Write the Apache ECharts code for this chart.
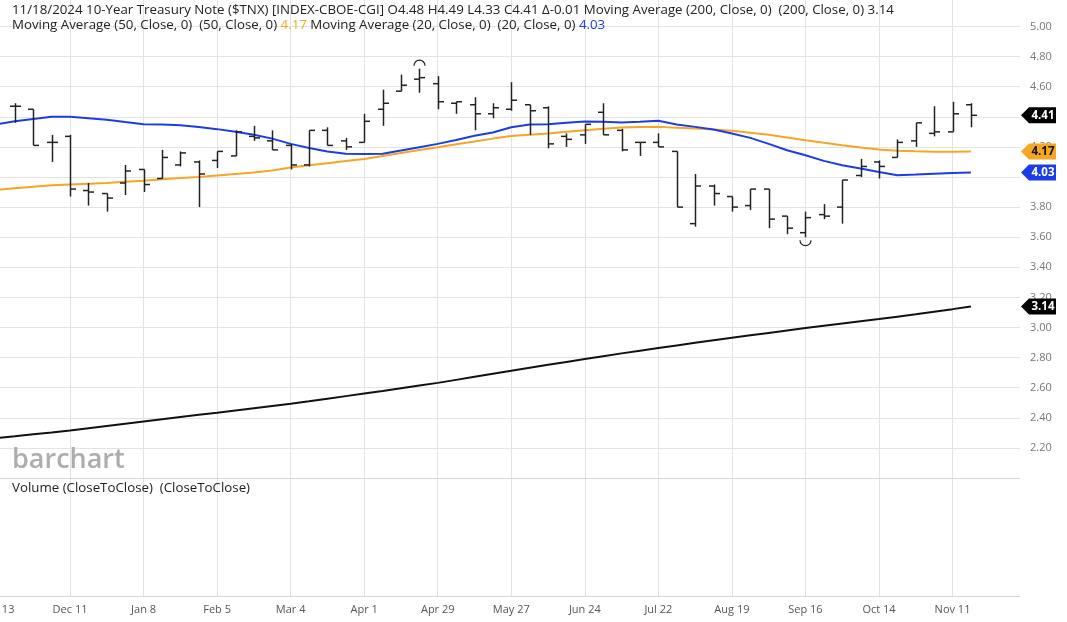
<!DOCTYPE html>
<html><head><meta charset="utf-8">
<script src="https://cdn.jsdelivr.net/npm/echarts@6/dist/echarts.min.js"></script>
<style>html,body{margin:0;padding:0;background:#fff;}#c{width:1067px;height:622px;}</style>
</head><body><div id="c"></div>
<script>
// ---- data ----
const originWeek = '2023-11-13';
const weeks = ['2023-11-20','2023-11-27','2023-12-04','2023-12-11','2023-12-18','2023-12-25','2024-01-01','2024-01-08','2024-01-15','2024-01-22','2024-01-29','2024-02-05','2024-02-12','2024-02-19','2024-02-26','2024-03-04','2024-03-11','2024-03-18','2024-03-25','2024-04-01','2024-04-08','2024-04-15','2024-04-22','2024-04-29','2024-05-06','2024-05-13','2024-05-20','2024-05-27','2024-06-03','2024-06-10','2024-06-17','2024-06-24','2024-07-01','2024-07-08','2024-07-15','2024-07-22','2024-07-29','2024-08-05','2024-08-12','2024-08-19','2024-08-26','2024-09-02','2024-09-09','2024-09-16','2024-09-23','2024-09-30','2024-10-07','2024-10-14','2024-10-21','2024-10-28','2024-11-04','2024-11-11','2024-11-18'];
const opens  = [4.47,4.45,4.23,4.27,3.91,3.89,3.96,4.05,3.99,4.08,4.10,4.11,4.14,4.27,4.24,4.21,4.08,4.31,4.24,4.23,4.45,4.57,4.65,4.62,4.49,4.48,4.42,4.45,4.48,4.46,4.27,4.28,4.43,4.31,4.23,4.23,4.17,3.69,3.94,3.87,3.81,3.92,3.74,3.63,3.75,3.80,4.01,4.10,4.13,4.24,4.29,4.30,4.48];
const highs  = [4.49,4.45,4.28,4.28,3.96,3.89,4.08,4.05,4.18,4.17,4.11,4.17,4.31,4.34,4.31,4.22,4.31,4.33,4.26,4.42,4.58,4.68,4.72,4.67,4.50,4.53,4.49,4.63,4.48,4.47,4.29,4.35,4.49,4.32,4.23,4.29,4.17,4.02,3.95,3.87,3.92,3.92,3.74,3.77,3.82,3.98,4.12,4.11,4.25,4.36,4.47,4.50,4.49];
const lows   = [4.36,4.21,4.10,3.87,3.81,3.77,3.88,3.90,3.99,4.07,3.80,4.06,4.14,4.24,4.18,4.05,4.07,4.21,4.18,4.23,4.34,4.57,4.56,4.45,4.42,4.31,4.39,4.44,4.28,4.19,4.20,4.22,4.28,4.17,4.14,4.20,3.80,3.67,3.81,3.77,3.78,3.66,3.62,3.60,3.72,3.69,4.00,3.99,4.13,4.20,4.27,4.30,4.33];
const closes = [4.47,4.21,4.23,3.92,3.90,3.86,4.04,3.95,4.13,4.16,4.02,4.17,4.30,4.26,4.18,4.08,4.31,4.21,4.20,4.37,4.49,4.61,4.66,4.50,4.50,4.42,4.46,4.51,4.44,4.22,4.25,4.35,4.28,4.18,4.23,4.20,3.80,3.94,3.89,3.80,3.92,3.72,3.66,3.73,3.74,3.98,4.07,4.07,4.23,4.36,4.30,4.42,4.41];
// moving averages, one value per week starting at originWeek
const ma200 = [2.265,2.277,2.29,2.302,2.315,2.33,2.345,2.36,2.375,2.39,2.405,2.42,2.434,2.449,2.464,2.479,2.494,2.51,2.527,2.544,2.561,2.578,2.596,2.614,2.632,2.652,2.672,2.692,2.712,2.732,2.752,2.771,2.79,2.809,2.828,2.846,2.864,2.881,2.898,2.915,2.932,2.948,2.964,2.98,2.996,3.011,3.026,3.041,3.056,3.072,3.088,3.105,3.122,3.14];
const ma50  = [3.915,3.925,3.935,3.945,3.95,3.955,3.96,3.968,3.975,3.985,3.993,4.0,4.01,4.02,4.03,4.043,4.063,4.078,4.092,4.106,4.12,4.14,4.16,4.18,4.198,4.218,4.236,4.255,4.272,4.281,4.289,4.30,4.311,4.32,4.329,4.332,4.333,4.328,4.322,4.315,4.307,4.294,4.28,4.262,4.244,4.227,4.211,4.196,4.182,4.175,4.171,4.168,4.167,4.17];
const ma20  = [4.35,4.37,4.385,4.40,4.40,4.39,4.38,4.365,4.351,4.348,4.344,4.332,4.318,4.30,4.28,4.255,4.22,4.193,4.17,4.154,4.152,4.154,4.176,4.198,4.22,4.246,4.274,4.296,4.33,4.349,4.351,4.36,4.369,4.367,4.362,4.367,4.373,4.349,4.333,4.316,4.289,4.26,4.22,4.178,4.144,4.107,4.078,4.056,4.033,4.011,4.016,4.022,4.027,4.03];
const tickLabels = ['Nov 13','Dec 11','Jan 8','Feb 5','Mar 4','Apr 1','Apr 29','May 27','Jun 24','Jul 22','Aug 19','Sep 16','Oct 14','Nov 11'];

// ---- helpers ----
const DAY = 86400000;
const t0 = Date.parse(originWeek + 'T00:00:00Z');
const wk = d => Math.round((Date.parse(d + 'T00:00:00Z') - t0) / (7 * DAY));
const ohlc = weeks.map((d, i) => [wk(d), opens[i], highs[i], lows[i], closes[i]]);
const maLine = arr => arr.map((v, i) => [i, v]);
const n = closes.length;
const X_MAX = 55.67, LABEL_STEP = 4;
const FONT = 'Open Sans';

let hiIdx = 0, loIdx = 0;
highs.forEach((v, i) => { if (v > highs[hiIdx]) hiIdx = i; });
lows.forEach((v, i) => { if (v < lows[loIdx]) loIdx = i; });

const f2 = v => v.toFixed(2);
const dParts = weeks[n - 1].split('-');
const hdrDate = dParts[1] + '/' + dParts[2] + '/' + dParts[0];
const delta = closes[n - 1] - closes[n - 2];
const header1 = hdrDate + ' 10-Year Treasury Note ($TNX) [INDEX-CBOE-CGI] O' + f2(opens[n-1]) + ' H' + f2(highs[n-1]) + ' L' + f2(lows[n-1]) + ' C' + f2(closes[n-1]) + ' \u0394' + (delta < 0 ? '-' : '+') + f2(Math.abs(delta)) + ' Moving Average (200, Close, 0)  (200, Close, 0) ' + f2(ma200[ma200.length-1]);

const chart = echarts.init(document.getElementById('c'), null, {renderer: 'canvas'});
const gridLine = '#e3e3e3', borderLine = '#d6d6d6';
const barColor = '#222';
const HF = 13.3;

const xCommon = {
  type: 'value', min: 0, max: X_MAX, interval: LABEL_STEP,
  axisTick: {show: false},
  axisLine: {show: true, onZero: false, lineStyle: {color: borderLine, width: 1}},
  splitLine: {show: true, showMinLine: false, showMaxLine: false, lineStyle: {color: gridLine, width: 1}}
};

const option = {
  animation: false,
  backgroundColor: '#fff',
  textStyle: {fontFamily: FONT},
  grid: [
    {left: -3.5, right: 47, top: 0, height: 478, outerBoundsMode: 'none'},
    {left: -3.5, right: 47, top: 478, height: 118, outerBoundsMode: 'none'}
  ],
  xAxis: [
    Object.assign({}, xCommon, {gridIndex: 0, axisLabel: {show: false}}),
    Object.assign({}, xCommon, {gridIndex: 1, axisLabel: {
      show: true, color: '#555', fontSize: 11, fontFamily: FONT, margin: 8,
      showMinLabel: true, showMaxLabel: false,
      formatter: v => { const k = Math.round(v / LABEL_STEP); return Math.abs(v - k * LABEL_STEP) < 1e-6 && tickLabels[k] ? tickLabels[k] : ''; }
    }})
  ],
  yAxis: [
    {gridIndex: 0, type: 'value', position: 'right', min: 2.0, max: 5.176, interval: 0.2,
     axisLine: {show: true, lineStyle: {color: borderLine}}, axisTick: {show: false},
     axisLabel: {color: '#777', fontSize: 11, fontFamily: FONT, margin: 10, showMinLabel: false, showMaxLabel: false, formatter: v => v.toFixed(2)},
     splitLine: {show: true, showMinLine: false, showMaxLine: false, lineStyle: {color: gridLine}}},
    {gridIndex: 1, type: 'value', position: 'right', min: 0, max: 1,
     axisLine: {show: true, lineStyle: {color: borderLine}}, axisTick: {show: false},
     axisLabel: {show: false}, splitLine: {show: false}}
  ],
  graphic: [
    {type: 'text', left: 12, top: 4, z: 10, style: {text: header1, fill: '#222', font: HF + 'px "' + FONT + '"'}},
    {type: 'text', left: 12, top: 19, z: 10, style: {
      text: '{a|Moving Average (50, Close, 0)  (50, Close, 0) }{o|' + f2(ma50[ma50.length-1]) + '}{a| Moving Average (20, Close, 0)  (20, Close, 0) }{b|' + f2(ma20[ma20.length-1]) + '}',
      rich: {
        a: {fill: '#222', fontSize: HF, fontFamily: FONT},
        o: {fill: '#f5a623', fontSize: HF, fontFamily: FONT},
        b: {fill: '#1c3ce6', fontSize: HF, fontFamily: FONT}
      }}},
    {type: 'text', left: 12, top: 447, z: 1, style: {text: 'barchart', fill: '#adadad', font: '600 27px "' + FONT + '"'}},
    {type: 'text', left: 12, top: 482, z: 10, style: {text: 'Volume (CloseToClose)  (CloseToClose)', fill: '#222', font: HF + 'px "' + FONT + '"'}}
  ],
  series: [
    {type: 'line', name: 'MA200', xAxisIndex: 0, yAxisIndex: 0, data: maLine(ma200), showSymbol: false, lineStyle: {color: '#111', width: 2}, z: 2},
    {type: 'line', name: 'MA50', xAxisIndex: 0, yAxisIndex: 0, data: maLine(ma50), showSymbol: false, lineStyle: {color: '#f5a623', width: 2}, z: 2},
    {type: 'line', name: 'MA20', xAxisIndex: 0, yAxisIndex: 0, data: maLine(ma20), showSymbol: false, lineStyle: {color: '#1c3ce6', width: 2}, z: 2},
    {type: 'custom', name: 'OHLC', xAxisIndex: 0, yAxisIndex: 0, z: 3,
     data: ohlc,
     renderItem: (params, api) => {
       const x = api.value(0);
       const ph = api.coord([x, api.value(2)]), pl = api.coord([x, api.value(3)]);
       const po = api.coord([x, api.value(1)]), pc = api.coord([x, api.value(4)]);
       const cx = Math.round(ph[0]) + 0.5;
       const st = {stroke: barColor, lineWidth: 1.5};
       const kids = [
         {type: 'line', shape: {x1: cx, y1: ph[1], x2: cx, y2: pl[1]}, style: st},
         {type: 'line', shape: {x1: cx - 5.5, y1: po[1], x2: cx, y2: po[1]}, style: st},
         {type: 'line', shape: {x1: cx, y1: pc[1], x2: cx + 5.5, y2: pc[1]}, style: st}
       ];
       if (params.dataIndex === hiIdx) kids.push({type: 'arc', shape: {cx: cx, cy: ph[1] - 3, r: 5.5, startAngle: Math.PI, endAngle: 2 * Math.PI}, style: {stroke: barColor, lineWidth: 1.2, fill: null}});
       if (params.dataIndex === loIdx) kids.push({type: 'arc', shape: {cx: cx, cy: pl[1] + 3, r: 5.5, startAngle: 0, endAngle: Math.PI}, style: {stroke: barColor, lineWidth: 1.2, fill: null}});
       return {type: 'group', children: kids};
     }},
    {type: 'custom', name: 'badges', xAxisIndex: 0, yAxisIndex: 0, z: 20, clip: false, silent: true,
     data: [
       [closes[n-1], 0],
       [ma50[ma50.length-1], 1],
       [ma20[ma20.length-1], 2],
       [ma200[ma200.length-1], 3]
     ],
     renderItem: (params, api) => {
       const fills = ['#000', '#f5a623', '#1c3ce6', '#000'];
       const texts = ['#fff', '#111', '#fff', '#fff'];
       const v = api.value(0), k = api.value(1);
       const p = api.coord([X_MAX, v]);
       const x = p[0] + 1, y = p[1], h = 8;
       return {type: 'group', children: [
         {type: 'polygon', shape: {points: [[x, y], [x + 8, y - h], [x + 35, y - h], [x + 35, y + h], [x + 8, y + h]]}, style: {fill: fills[k]}},
         {type: 'text', x: x + 22, y: y, style: {text: v.toFixed(2), fill: texts[k], font: 'bold 11.5px "' + FONT + '"', align: 'center', verticalAlign: 'middle'}}
       ]};
     }}
  ]
};
chart.setOption(option);
</script>
</body></html>
